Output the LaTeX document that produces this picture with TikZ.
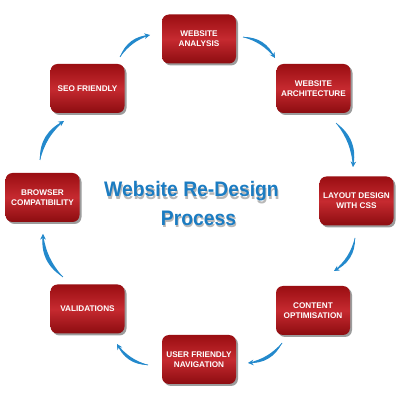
\documentclass[tikz,border=0pt]{standalone}
\usepackage{fontspec}
\setmainfont{Liberation Sans}
\usetikzlibrary{arrows.meta,shadows}
\definecolor{boxtop}{HTML}{9A0E12}
\definecolor{boxmid}{HTML}{C62A30}
\definecolor{boxbot}{HTML}{8C0C10}
\definecolor{arrowblue}{HTML}{2389CC}
\definecolor{titleblue}{HTML}{1B7CC2}
\tikzset{
  stagebox/.style={rounded corners=7pt, minimum width=74pt, minimum height=49pt,
    inner sep=0pt, top color=boxtop, bottom color=boxbot, middle color=boxmid,
    draw=none, text=white, font=\bfseries\fontsize{8.2}{10}\selectfont, align=center,
    drop shadow={shadow xshift=2pt, shadow yshift=-2pt, fill=black!55, opacity=0.7}},
  cycarrow/.style={arrowblue},
  titletext/.style={anchor=base, text=titleblue, inner sep=0pt},
}
\newcommand\cycarr[2]{%
  \fill[cycarrow] (#1) to[bend left=34] (#2) to[bend right=16] (#1);
  \draw[cycarrow, line width=0.7pt, -{Stealth[length=5.5pt,width=5.5pt]}] (#1) to[bend left=25] (#2);}
\newcommand\shadowed[1]{\scalebox{0.92}[1]{\bfseries\fontsize{21}{24}\selectfont\rlap{\kern1pt\raisebox{-2.5pt}{\color{black!28}#1}}#1}}
\begin{document}
\begin{tikzpicture}[x=1pt,y=1pt]
\useasboundingbox (0,0) rectangle (400,400);
\fill[white] (0,0) rectangle (400,400);
% boxes
\node[stagebox] (ana) at (199,361) {WEBSITE\\ANALYSIS};
\node[stagebox] (arc) at (313.5,311.5) {WEBSITE\\ARCHITECTURE};
\node[stagebox] (lay) at (356.5,199) {LAYOUT DESIGN\\WITH CSS};
\node[stagebox] (con) at (313,89.5) {CONTENT\\OPTIMISATION};
\node[stagebox] (usr) at (199,40.5) {USER FRIENDLY\\NAVIGATION};
\node[stagebox] (val) at (87.5,91) {VALIDATIONS};
\node[stagebox] (bro) at (42.5,202.5) {BROWSER\\COMPATIBILITY};
\node[stagebox] (seo) at (87.5,311.5) {SEO FRIENDLY};
% arrow end points
\coordinate (s1) at (120,343); \coordinate (e1) at (150,365);
\coordinate (s2) at (243,363); \coordinate (e2) at (275,342);
\coordinate (s3) at (336,277); \coordinate (e3) at (353,233);
\coordinate (s4) at (355,162); \coordinate (e4) at (334,129);
\coordinate (s5) at (282,57);  \coordinate (e5) at (248,37);
\coordinate (s6) at (148,35);  \coordinate (e6) at (117,56);
\coordinate (s7) at (63,123);  \coordinate (e7) at (43,166);
\coordinate (s8) at (40,240);  \coordinate (e8) at (64,279);
\cycarr{s1}{e1}
\cycarr{s2}{e2}
\cycarr{s3}{e3}
\cycarr{s4}{e4}
\cycarr{s5}{e5}
\cycarr{s6}{e6}
\cycarr{s7}{e7}
\cycarr{s8}{e8}
% title
\node[titletext] (t1) at (191.5,203) {\shadowed{Website Re-Design}};
\node[titletext] (t2) at (198.5,175) {\shadowed{Process}};
\end{tikzpicture}
\end{document}
